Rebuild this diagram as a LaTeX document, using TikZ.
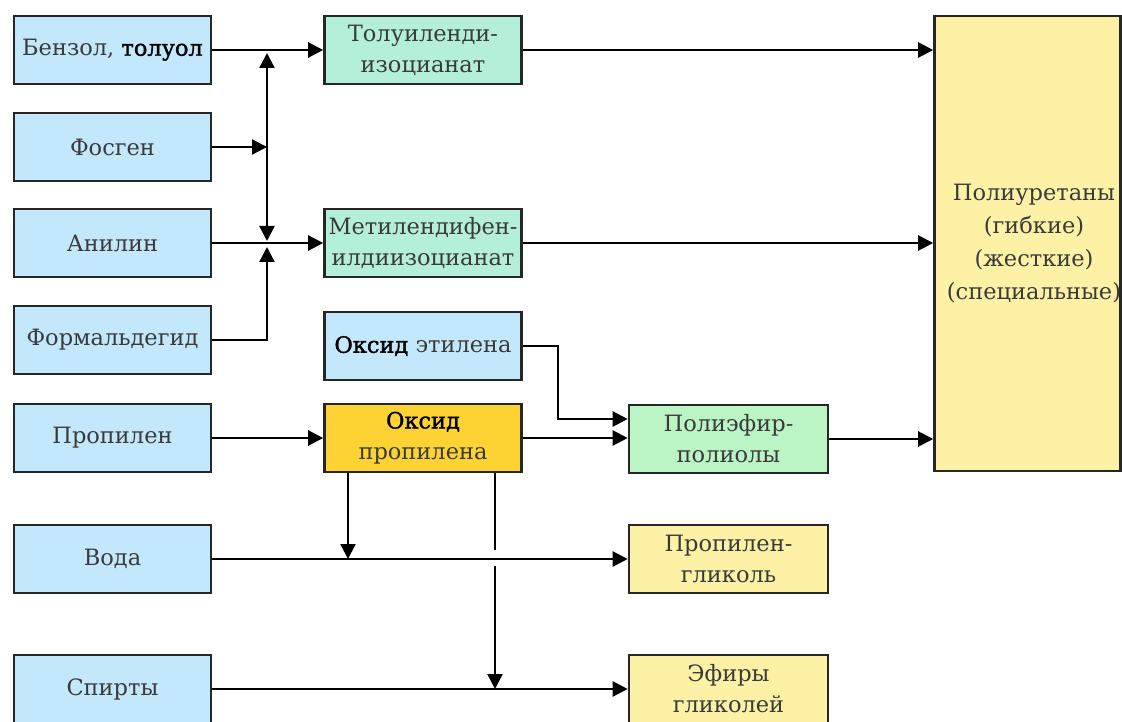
\documentclass[tikz,border=0pt]{standalone}
\usepackage{fontspec}
\setmainfont{DejaVu Serif}[Ligatures=TeX]
\usetikzlibrary{arrows.meta}
\definecolor{cblue}{HTML}{C3E8FC}
\definecolor{cmint}{HTML}{B4F0D9}
\definecolor{cgreen}{HTML}{BBF5C6}
\definecolor{cgold}{HTML}{FDD333}
\definecolor{cpale}{HTML}{FDF1A6}
\definecolor{cborder}{HTML}{262626}
\definecolor{ctext}{HTML}{3A3A3A}
\newcommand{\hv}[1]{{\addfontfeatures{FakeBold=1.4}\color{black}#1}}
\tikzset{
  boxnode/.style={draw=cborder, line width=2.6pt, minimum width=197pt, minimum height=68pt,
    inner sep=0pt, align=center, text=ctext, font=\rmfamily\fontsize{22.5}{31}\selectfont},
  src/.style={boxnode, fill=cblue},
  iso/.style={boxnode, fill=cmint},
  pol/.style={boxnode, fill=cgreen},
  gold/.style={boxnode, fill=cgold},
  prod/.style={boxnode, fill=cpale},
  conn/.style={line width=2.3pt, draw=black},
  arr/.style={conn, -{Triangle[length=15pt,width=15pt]}},
  darr/.style={conn, {Triangle[length=15pt,width=15pt]}-{Triangle[length=15pt,width=15pt]}}
}
\begin{document}
\begin{tikzpicture}[x=1pt,y=-1pt]
\useasboundingbox (0,0) rectangle (1122,722);
% left column
\node[src] (b1) at (112.5,50) {Бензол, \hv{толуол}};
\node[src] (b2) at (112.5,147) {Фосген};
\node[src] (b3) at (112.5,243) {Анилин};
\node[src] (b4) at (112.5,340) {Формальдегид};
\node[src] (b5) at (112.5,438) {Пропилен};
\node[src] (b6) at (112.5,559) {Вода};
\node[src] (b7) at (112.5,689) {Спирты};
% middle column
\node[iso] (m1) at (423,50) {Толуиленди-\\изоцианат};
\node[iso] (m2) at (423,243) {Метилендифен-\\илдиизоцианат};
\node[src] (m3) at (423,346) {\hv{Оксид} этилена};
\node[gold] (m4) at (423,438) {\hv{Оксид}\\пропилена};
% right
\node[pol, minimum width=199pt] (r1) at (728.5,439) {Полиэфир-\\полиолы};
\node[prod, minimum width=199pt] (r2) at (728.5,559) {Пропилен-\\гликоль};
\node[prod, minimum width=199pt] (r3) at (728.5,689) {Эфиры\\гликолей};
\node[prod, minimum width=186pt, minimum height=455pt] (pu) at (1027.5,243.5) {};
\node[text=ctext, font=\rmfamily\fontsize{22.5}{33}\selectfont, align=center] (putxt) at (1034,243.5) {Полиуретаны\\(гибкие)\\(жесткие)\\(специальные)};
% coordinates
\coordinate (vt) at (267,53);
\coordinate (vb) at (267,241);
\coordinate (vf) at (267,247);
\coordinate (eo) at (558,419);
\coordinate (d1) at (348,0);
\coordinate (d2) at (495,0);
\coordinate (g1) at (495,550);
\coordinate (g2) at (495,566);
% connectors
\draw[arr] (b1.east) -- (m1.west);
\draw[darr] (vt) -- (vb);
\draw[arr] (b2.east) -- (b2.east -| vt);
\draw[arr] (b3.east) -- (m2.west);
\draw[arr] (b4.east) -| (vf);
\draw[arr] (m1.east) -- (m1.east -| pu.west);
\draw[arr] (m2.east) -- (m2.east -| pu.west);
\draw[arr] (m3.east) -| (eo) -- (eo -| r1.west);
\draw[arr] (b5.east) -- (m4.west);
\draw[arr] (m4.east) -- (m4.east -| r1.west);
\draw[arr] (r1.east) -- (r1.east -| pu.west);
\draw[arr] (m4.south -| d1) -- (b6.east -| d1);
\draw[arr] (b6.east) -- (r2.west);
\draw[conn] (m4.south -| d2) -- (g1);
\draw[arr] (g2) -- (b7.east -| d2);
\draw[arr] (b7.east) -- (r3.west);
\end{tikzpicture}
\end{document}
